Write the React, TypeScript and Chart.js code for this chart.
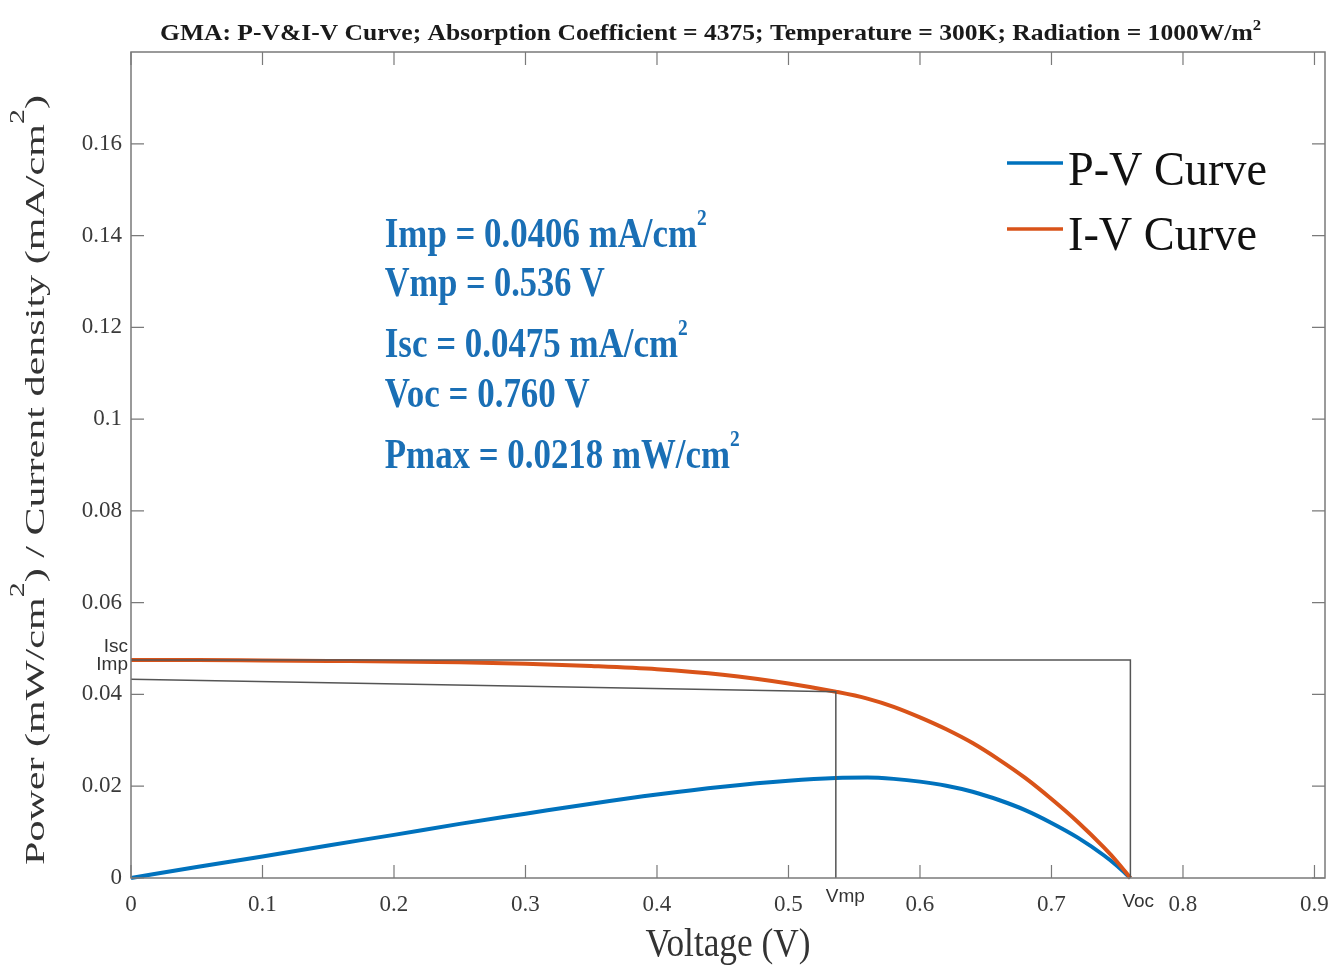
import React, { useEffect, useRef } from "react";
import { Chart, registerables } from "chart.js";

Chart.register(...registerables);

// ---------------- data ----------------
const voltage = [0, 0.05, 0.1, 0.15, 0.2, 0.25, 0.3, 0.35, 0.4, 0.45, 0.5, 0.536, 0.56, 0.58, 0.6, 0.62, 0.64, 0.66, 0.68, 0.7, 0.72, 0.74, 0.75, 0.76];
const currentDensity = [0.0475, 0.0475, 0.0474, 0.0473, 0.0472, 0.047, 0.0467, 0.0462, 0.0455, 0.0443, 0.0424, 0.0406, 0.0391, 0.0373, 0.035, 0.0324, 0.0294, 0.0258, 0.0218, 0.0172, 0.0122, 0.0066, 0.0035, 0];
const power = [0, 0.0024, 0.0047, 0.0071, 0.0094, 0.0118, 0.014, 0.0162, 0.0182, 0.0199, 0.0212, 0.0218, 0.0219, 0.0216, 0.021, 0.0201, 0.0188, 0.017, 0.0148, 0.012, 0.0088, 0.0049, 0.0026, 0];

const xTickValues = [0, 0.1, 0.2, 0.3, 0.4, 0.5, 0.6, 0.7, 0.8, 0.9];
const yTickValues = [0, 0.02, 0.04, 0.06, 0.08, 0.1, 0.12, 0.14, 0.16];

const iscValue = 0.0475;
const vocValue = 0.76;
const impValue = 0.0406;
const vmpValue = 0.536;
const impGuideStart = 0.0433; // left end of the Imp guide line as drawn in the figure

const titleText = "GMA: P-V&I-V Curve; Absorption Coefficient = 4375; Temperature = 300K; Radiation = 1000W/m";
const annotationLines = [
  { text: "Imp = 0.0406 mA/cm", sup: "2" },
  { text: "Vmp = 0.536 V", sup: "" },
  { text: "Isc = 0.0475 mA/cm", sup: "2" },
  { text: "Voc = 0.760 V", sup: "" },
  { text: "Pmax = 0.0218 mW/cm", sup: "2" },
];
const legendLabels = ["P-V Curve", "I-V Curve"];

// ---------------- styling ----------------
const BLUE = "#0072BD";
const ORANGE = "#D95319";
const GUIDE = "#555555";
const AXIS = "#7a7a7a";
const SERIF = "'Liberation Serif', 'Times New Roman', serif";
const SANS = "'Liberation Sans', Arial, sans-serif";
const ANNO = "#1a6fb5";

type Part = { text: string; font: string; dy: number };

function drawRich(ctx: CanvasRenderingContext2D, parts: Part[], x: number, y: number, targetW: number, align: "left" | "center" | "right", color: string) {
  let w = 0;
  for (const p of parts) {
    ctx.font = p.font;
    w += ctx.measureText(p.text).width;
  }
  const sx = targetW / w;
  ctx.save();
  ctx.translate(x, y);
  ctx.scale(sx, 1);
  ctx.textAlign = "left";
  ctx.textBaseline = "alphabetic";
  ctx.fillStyle = color;
  let cx = align === "left" ? 0 : align === "center" ? -w / 2 : -w;
  for (const p of parts) {
    ctx.font = p.font;
    ctx.fillText(p.text, cx, p.dy);
    cx += ctx.measureText(p.text).width;
  }
  ctx.restore();
}

const fmt = (v: number) => String(+v.toFixed(2));

const decorPlugin = {
  id: "decor",
  afterDatasetsDraw(chart: any) {
    const { ctx, chartArea: a, scales } = chart;
    const xs = scales.x;
    const ys = scales.y;
    ctx.save();
    ctx.strokeStyle = AXIS;
    ctx.lineWidth = 1.5;
    ctx.strokeRect(a.left, a.top, a.right - a.left, a.bottom - a.top);
    const tl = 13;
    ctx.lineWidth = 1.2;
    ctx.beginPath();
    for (const v of xTickValues) {
      const px = xs.getPixelForValue(v);
      ctx.moveTo(px, a.bottom);
      ctx.lineTo(px, a.bottom - tl);
      ctx.moveTo(px, a.top);
      ctx.lineTo(px, a.top + tl);
    }
    for (const v of yTickValues) {
      const py = ys.getPixelForValue(v);
      ctx.moveTo(a.left, py);
      ctx.lineTo(a.left + tl, py);
      ctx.moveTo(a.right, py);
      ctx.lineTo(a.right - tl, py);
    }
    ctx.stroke();
    ctx.restore();
  },
  afterDraw(chart: any) {
    const { ctx, chartArea: a, scales } = chart;
    const xs = scales.x;
    const ys = scales.y;
    ctx.save();

    // title
    drawRich(
      ctx,
      [
        { text: titleText, font: `bold 23px ${SERIF}`, dy: 0 },
        { text: "2", font: `bold 15px ${SERIF}`, dy: -10 },
      ],
      160,
      a.top - 12,
      1101,
      "left",
      "#1a1a1a"
    );

    // x axis title
    drawRich(ctx, [{ text: "Voltage (V)", font: `41px ${SERIF}`, dy: 0 }], (a.left + a.right) / 2, a.bottom + 78, 165, "center", "#333");

    // y axis title (rotated)
    ctx.save();
    ctx.translate(44, 480);
    ctx.rotate(-Math.PI / 2);
    drawRich(
      ctx,
      [
        { text: "Power (mW/cm", font: `28px ${SERIF}`, dy: 0 },
        { text: "2", font: `20px ${SERIF}`, dy: -20 },
        { text: ") / Current density (mA/cm", font: `28px ${SERIF}`, dy: 0 },
        { text: "2", font: `20px ${SERIF}`, dy: -20 },
        { text: ")", font: `28px ${SERIF}`, dy: 0 },
      ],
      0,
      0,
      770,
      "center",
      "#333"
    );
    ctx.restore();

    // annotation block
    const annX = xs.getPixelForValue(0.193);
    const annBase = [0.1375, 0.1268, 0.1135, 0.1026, 0.0894];
    const annW = [322, 220, 303, 205, 355];
    annotationLines.forEach((ln, i) => {
      const parts: Part[] = [{ text: ln.text, font: `bold 43px ${SERIF}`, dy: 0 }];
      if (ln.sup) parts.push({ text: ln.sup, font: `bold 24px ${SERIF}`, dy: -22 });
      drawRich(ctx, parts, annX, ys.getPixelForValue(annBase[i]), annW[i], "left", ANNO);
    });

    // legend
    const legX0 = 1007;
    const legX1 = 1063;
    const legRows = [
      { color: BLUE, lineY: 163, base: 185, w: 199 },
      { color: ORANGE, lineY: 229, base: 250, w: 189 },
    ];
    legRows.forEach((r, i) => {
      ctx.strokeStyle = r.color;
      ctx.lineWidth = 3.5;
      ctx.beginPath();
      ctx.moveTo(legX0, r.lineY);
      ctx.lineTo(legX1, r.lineY);
      ctx.stroke();
      drawRich(ctx, [{ text: legendLabels[i], font: `48px ${SERIF}`, dy: 0 }], 1068, r.base, r.w, "left", "#111");
    });

    // point labels
    ctx.fillStyle = "#333";
    ctx.font = `19px ${SANS}`;
    ctx.textBaseline = "alphabetic";
    ctx.textAlign = "right";
    ctx.fillText("Isc", xs.getPixelForValue(0) - 3, ys.getPixelForValue(iscValue) - 8);
    ctx.fillText("Imp", xs.getPixelForValue(0) - 3, ys.getPixelForValue(impGuideStart) - 9);
    ctx.textAlign = "left";
    ctx.fillText("Vmp", xs.getPixelForValue(vmpValue) - 10, a.bottom + 24);
    ctx.fillText("Voc", xs.getPixelForValue(vocValue) - 8, a.bottom + 29);

    ctx.restore();
  },
};

export default function App() {
  const ref = useRef<HTMLCanvasElement | null>(null);

  useEffect(() => {
    const canvas = ref.current;
    if (!canvas) return;
    const iv = voltage.map((v, i) => ({ x: v, y: currentDensity[i] }));
    const pv = voltage.map((v, i) => ({ x: v, y: power[i] }));
    const iscGuide = [
      { x: 0, y: iscValue },
      { x: vocValue, y: iscValue },
      { x: vocValue, y: 0 },
    ];
    const impGuide = [
      { x: 0, y: impGuideStart },
      { x: vmpValue, y: impValue },
      { x: vmpValue, y: 0 },
    ];

    const tickFont = { family: SERIF, size: 23 };

    const chart = new Chart(canvas, {
      type: "scatter",
      data: {
        datasets: [
          { label: "Isc guide", data: iscGuide, showLine: true, borderColor: GUIDE, borderWidth: 1.5, pointRadius: 0, order: 0 } as any,
          { label: "Imp guide", data: impGuide, showLine: true, borderColor: GUIDE, borderWidth: 1.5, pointRadius: 0, order: 0 } as any,
          { label: "I-V Curve", data: iv, showLine: true, borderColor: ORANGE, borderWidth: 4, pointRadius: 0, cubicInterpolationMode: "monotone", order: 1, clip: 6 } as any,
          { label: "P-V Curve", data: pv, showLine: true, borderColor: BLUE, borderWidth: 4, pointRadius: 0, cubicInterpolationMode: "monotone", order: 2, clip: 6 } as any,
        ],
      },
      options: {
        responsive: false,
        animation: false,
        events: [],
        layout: { padding: { top: 52, right: 10, left: 0, bottom: 0 } },
        plugins: { legend: { display: false }, tooltip: { enabled: false }, title: { display: false } },
        scales: {
          x: {
            type: "linear",
            min: 0,
            max: 0.908,
            grid: { display: false, drawTicks: false },
            border: { display: false },
            ticks: { font: tickFont, color: "#3a3a3a", padding: 13, autoSkip: false, maxRotation: 0, callback: (v: any) => fmt(Number(v)) },
            afterBuildTicks: (s: any) => {
              s.ticks = xTickValues.map((v) => ({ value: v }));
            },
            afterFit: (s: any) => {
              s.height = 95;
              s.paddingLeft = 0;
              s.paddingRight = 0;
            },
          },
          y: {
            type: "linear",
            min: 0,
            max: 0.18,
            grid: { display: false, drawTicks: false },
            border: { display: false },
            ticks: { font: tickFont, color: "#3a3a3a", padding: 9, autoSkip: false, callback: (v: any) => fmt(Number(v)) },
            afterBuildTicks: (s: any) => {
              s.ticks = yTickValues.map((v) => ({ value: v }));
            },
            afterFit: (s: any) => {
              s.width = 131;
              s.paddingTop = 0;
              s.paddingBottom = 0;
            },
          },
        },
      } as any,
      plugins: [decorPlugin],
    });
    return () => chart.destroy();
  }, []);

  return (
    <div style={{ position: "fixed", left: 0, top: 0, width: 1335, height: 973, background: "#fff" }}>
      <canvas ref={ref} width={1335} height={973} style={{ display: "block", width: 1335, height: 973 }} />
    </div>
  );
}
